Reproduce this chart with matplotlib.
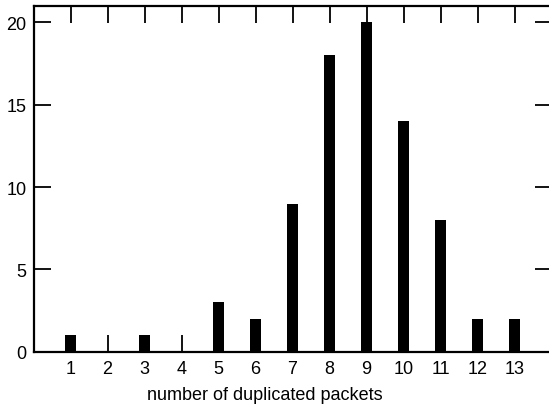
import matplotlib
matplotlib.use("Agg")
import matplotlib.pyplot as plt

categories = list(range(1, 14))
counts = [1, 0, 1, 0, 3, 2, 9, 18, 20, 14, 8, 2, 2]
yticks = [0, 5, 10, 15, 20]
xlabel = "number of duplicated packets"

plt.rcParams['font.family'] = ['Liberation Sans', 'DejaVu Sans']
W, H = 549, 406
fig = plt.figure(figsize=(W/100, H/100), dpi=100)
left, right, top, bottom = 33.5, 551.5, 7.0, 352.7
ax = fig.add_axes([left/W, (H-bottom)/H, (right-left)/W, (bottom-top)/H])
ax.bar(categories, counts, width=0.32, color='black')
ax.set_xlim(0, 14)
ax.set_ylim(0, 21)
ax.set_xticks(categories)
ax.set_yticks(yticks)
ax.tick_params(direction='in', length=12, width=1.3, top=True, right=True,
               labelsize=13, pad=5, colors='black')
ax.tick_params(axis='x', pad=6)
for s in ax.spines.values():
    s.set_linewidth(1.6)
fig.text(265/W, (H-400)/H, xlabel, fontsize=13, ha='center', va='baseline')
fig.savefig("out.png", dpi=100)
